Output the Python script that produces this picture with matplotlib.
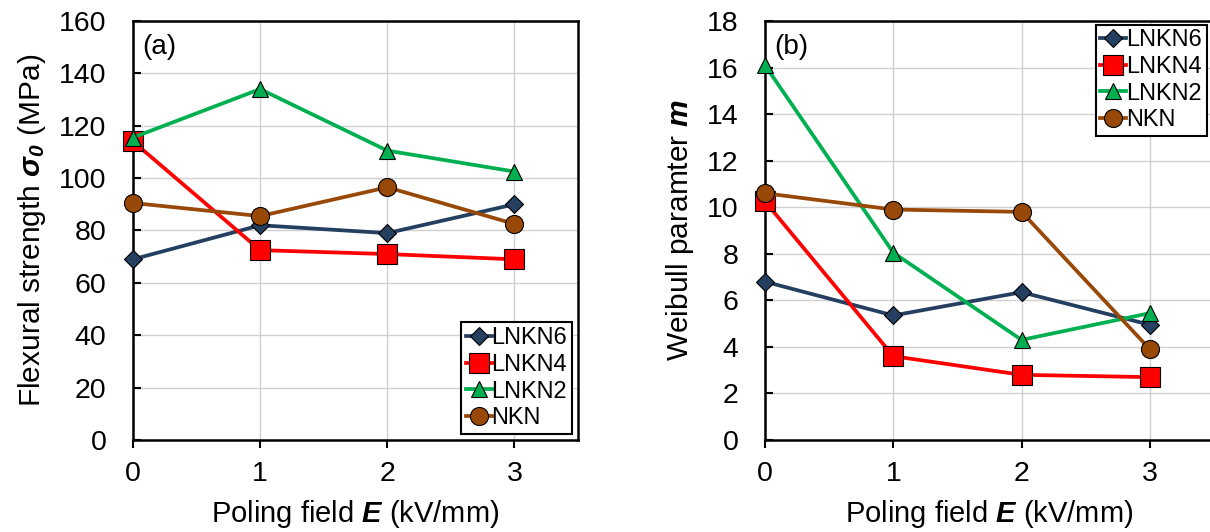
import numpy as np
import matplotlib
matplotlib.use('Agg')
import matplotlib.pyplot as plt

plt.rcParams['font.family'] = ['Liberation Sans', 'DejaVu Sans']
plt.rcParams['mathtext.fontset'] = 'custom'
plt.rcParams['mathtext.rm'] = 'Liberation Sans'
plt.rcParams['mathtext.it'] = 'Liberation Sans:italic'
plt.rcParams['mathtext.bf'] = 'Liberation Sans:bold:italic'

# campo de polarizacao (kV/mm)
campo = [0, 1, 2, 3]
series = ['LNKN6', 'LNKN4', 'LNKN2', 'NKN']

# (a) resistencia a flexao (MPa)
sigma_lnkn6 = [69, 82, 79, 90]
sigma_lnkn4 = [114, 72.5, 71, 69]
sigma_lnkn2 = [115.5, 134, 110.5, 102.5]
sigma_nkn = [90.5, 85.5, 96.5, 82.5]

# (b) parametro de Weibull m
m_lnkn6 = [6.8, 5.35, 6.35, 4.95]
m_lnkn4 = [10.25, 3.6, 2.8, 2.7]
m_lnkn2 = [16.1, 8.05, 4.3, 5.45]
m_nkn = [10.6, 9.9, 9.8, 3.9]

cores = ['#243F60', '#FF0000', '#00B050', '#984807']
marcadores = ['D', 's', '^', 'o']
tamanhos = [9, 14, 12, 13]

fig = plt.figure(figsize=(12.1, 5.32), dpi=100)
ax1 = fig.add_axes([133/1210, 92/532, 445/1210, 419/532])
ax2 = fig.add_axes([765/1210, 92/532, 449/1210, 419/532])


def desenha(ax, dados, ylim, yticks, ylabel, letra, loc, bbox, pad_leg):
    for y, nome, c, mk, ms in zip(dados, series, cores, marcadores, tamanhos):
        ax.plot(campo, y, color=c, lw=2.7, marker=mk, ms=ms,
                markeredgecolor='black', markeredgewidth=0.8, label=nome,
                clip_on=False, zorder=3)
    ax.set_xlim(0, 3.5)
    ax.set_ylim(*ylim)
    ax.set_xticks(campo)
    ax.set_yticks(yticks)
    ax.grid(True, color='#d0d0d0', lw=1)
    ax.set_axisbelow(True)
    ax.tick_params(axis='x', direction='out', length=6, width=1.5, labelsize=20.5, pad=9)
    ax.tick_params(axis='y', direction='in', length=6, width=1.5, labelsize=20.5, pad=19)
    for s in ax.spines.values():
        s.set_linewidth(1.8)
    ax.set_xlabel(r'Poling field $\mathbf{E}$ (kV/mm)', fontsize=21, labelpad=8)
    ax.set_ylabel(ylabel, fontsize=21.5, labelpad=8)
    ax.text(0.02, 0.97, letra, transform=ax.transAxes, fontsize=20, va='top', ha='left')
    leg = ax.legend(loc=loc, bbox_to_anchor=bbox, fontsize=17, handlelength=1.1,
                    handletextpad=0.0, borderpad=0.2, labelspacing=0.2,
                    fancybox=False, framealpha=1, borderaxespad=pad_leg)
    leg.get_frame().set_edgecolor('black')
    leg.get_frame().set_linewidth(1.5)


desenha(ax1, [sigma_lnkn6, sigma_lnkn4, sigma_lnkn2, sigma_nkn], (0, 160),
        np.arange(0, 161, 20), r'Flexural strength $\mathbf{\sigma_0}$ (MPa)', '(a)',
        'lower right', (1.0, 0.0), 0.25)
desenha(ax2, [m_lnkn6, m_lnkn4, m_lnkn2, m_nkn], (0, 18),
        np.arange(0, 19, 2), r'Weibull paramter $\mathbf{m}$', '(b)',
        'upper right', (0.992, 1.0), 0.15)

fig.savefig('out.png', dpi=100)
